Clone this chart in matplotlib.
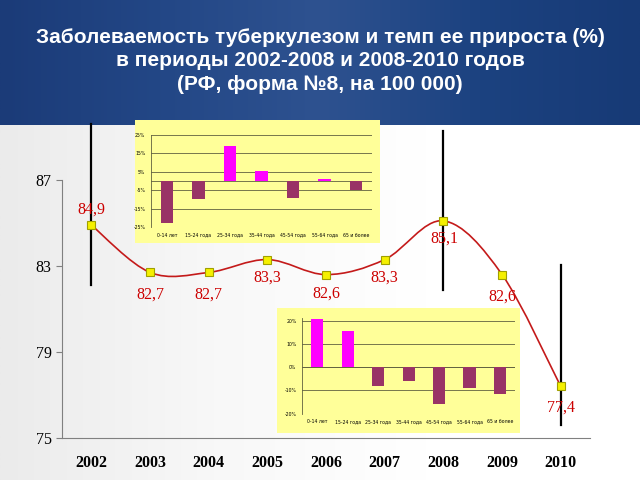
import matplotlib
matplotlib.use("Agg")
import matplotlib.pyplot as plt
import numpy as np
from matplotlib.path import Path
from matplotlib.patches import PathPatch, Rectangle
from matplotlib.colors import LinearSegmentedColormap

years = [2002, 2003, 2004, 2005, 2006, 2007, 2008, 2009, 2010]
rate = [84.9, 82.7, 82.7, 83.3, 82.6, 83.3, 85.1, 82.6, 77.4]
rate_labels = ["84,9", "82,7", "82,7", "83,3", "82,6", "83,3", "85,1", "82,6", "77,4"]

ages = ["0-14 лет", "15-24 года", "25-34 года", "35-44 года", "45-54 года", "55-64 года", "65 и более"]
growth_2002_2008 = [-23, -10, 19, 5.5, -9, 1, -5]
growth_2008_2010 = [20.5, 15.7, -7.9, -6, -15.7, -9, -11.7]

title = "Заболеваемость туберкулезом и темп ее прироста (%)\nв периоды 2002-2008 и 2008-2010 годов\n(РФ, форма №8, на 100 000)"

fig = plt.figure(figsize=(6.4, 4.8), dpi=100)

# background: light body, dark blue banner
bg = fig.add_axes([0, 0, 1, 1], zorder=-10)
bg.axis("off")
body = LinearSegmentedColormap.from_list("b", ["#ebebeb", "#f8f8f8", "#ffffff", "#ffffff"])
bg.imshow(np.linspace(0, 1, 256).reshape(1, -1), extent=[0, 1, 0, 0.74], cmap=body, aspect="auto")
banner = LinearSegmentedColormap.from_list("t", ["#1b3b78", "#234786", "#2e5290", "#1c4280", "#173a76"])
bg.imshow(np.linspace(0, 1, 256).reshape(1, -1), extent=[0, 1, 0.74, 1], cmap=banner, aspect="auto")
bg.set_xlim(0, 1)
bg.set_ylim(0, 1)
fig.text(0.5, 0.873, title, ha="center", va="center", color="white", fontsize=15,
         fontweight="bold", family="Liberation Sans", linespacing=1.28)

# main line chart
ax = fig.add_axes([0.097, 0.0875, 0.825, 0.5375])
ax.set_facecolor("none")
ax.set_xlim(2001.5, 2010.5)
ax.set_ylim(75, 87)
ax.set_yticks([75, 79, 83, 87])
ax.set_xticks(years)
for s in ["top", "right"]:
    ax.spines[s].set_visible(False)
ax.spines["left"].set_color("#808080")
ax.spines["bottom"].set_color("#808080")
ax.tick_params(axis="x", length=0, pad=12)
ax.tick_params(axis="y", length=4, color="#808080")
for t in ax.get_xticklabels():
    t.set_family("Liberation Serif")
    t.set_fontweight("bold")
    t.set_fontsize(11.5)
for t in ax.get_yticklabels():
    t.set_family("Liberation Serif")
    t.set_fontsize(11.5)

# smoothed line (Bezier through points)
x = np.array(years, dtype=float)
y = np.array(rate)
verts = [(x[0], y[0])]
codes = [Path.MOVETO]
for i in range(len(x) - 1):
    p0 = (x[max(i - 1, 0)], y[max(i - 1, 0)])
    p1 = (x[i], y[i])
    p2 = (x[i + 1], y[i + 1])
    p3 = (x[min(i + 2, len(x) - 1)], y[min(i + 2, len(x) - 1)])
    c1 = (p1[0] + (p2[0] - p0[0]) / 6, p1[1] + (p2[1] - p0[1]) / 6)
    c2 = (p2[0] - (p3[0] - p1[0]) / 6, p2[1] - (p3[1] - p1[1]) / 6)
    verts += [c1, c2, p2]
    codes += [Path.CURVE4] * 3
ax.add_patch(PathPatch(Path(verts, codes), fill=False, edgecolor="#c41a1a", lw=1.2, zorder=3))
ax.plot(years, rate, ls="none", marker="s", ms=6, mfc="#f5f000", mec="#a0a000", mew=0.8, zorder=4)

offsets = [(0, 11), (0, -16), (0, -16), (0, -13), (0, -14), (0, -13), (1, -13), (0, -16), (0, -15)]
for xi, yi, lab, off in zip(years, rate, rate_labels, offsets):
    ax.annotate(lab, (xi, yi), xytext=off, textcoords="offset points", ha="center", va="center",
                color="#cc0000", fontsize=11.5, family="Liberation Serif")

# vertical black markers
for xv, y0, y1 in [(2002, 82.1, 89.6), (2008, 81.9, 89.3), (2010, 75.6, 83.05)]:
    ax.plot([xv, xv], [y0, y1], color="black", lw=1.6, clip_on=False, zorder=2)


def inset(box, area, vals, ticks, ylim):
    fig.patches.append(Rectangle((box[0], box[1]), box[2], box[3], transform=fig.transFigure,
                                 facecolor="#ffff99", edgecolor="none", zorder=5))
    a = fig.add_axes(area, zorder=6)
    a.set_facecolor("#ffff99")
    colors = ["#ff00ff" if v > 0 else "#993366" for v in vals]
    a.bar(range(len(vals)), vals, width=0.4, color=colors, zorder=3)
    a.set_ylim(*ylim)
    a.set_xlim(-0.5, len(vals) - 0.5)
    a.set_yticks(ticks)
    a.set_yticklabels([f"{t}%" for t in ticks])
    a.set_xticks(range(len(vals)))
    a.set_xticklabels(ages)
    a.tick_params(labelsize=3.3, length=0, pad=4)
    a.grid(axis="y", color="#606040", lw=0.6, zorder=1)
    a.axhline(0, color="#606040", lw=0.6, zorder=1)
    for s in ["top", "right", "bottom"]:
        a.spines[s].set_visible(False)
    a.spines["left"].set_color("#606040")
    a.spines["left"].set_linewidth(0.6)


inset([0.211, 0.494, 0.383, 0.256], [0.236, 0.527, 0.345, 0.192],
      growth_2002_2008, [25, 15, 5, -5, -15, -25], (-25, 25))
inset([0.433, 0.098, 0.38, 0.26], [0.472, 0.138, 0.333, 0.199],
      growth_2008_2010, [20, 10, 0, -10, -20], (-20, 21))

fig.savefig("out.png", dpi=100)
